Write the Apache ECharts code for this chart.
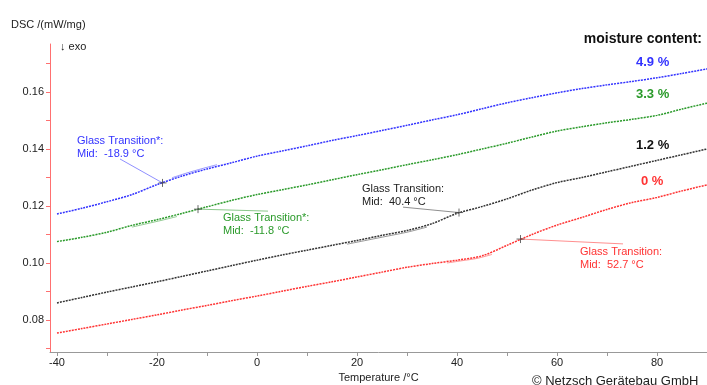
<!DOCTYPE html>
<html><head><meta charset="utf-8">
<script src="https://cdn.jsdelivr.net/npm/echarts@6/dist/echarts.min.js"></script>
<style>html,body{margin:0;padding:0;background:#fff}#c{width:707px;height:385px}</style>
</head><body><div id="c"></div>
<script>
const temps = [-40,-35,-30,-25,-20,-15,-10,-5,0,5,10,15,20,25,30,35,40,45,50,55,60,65,70,75,80,85,90];
const dsc49 = [0.1172,0.1192,0.1215,0.1240,0.1275,0.1305,0.1330,0.1352,0.1375,0.1393,0.1411,0.1430,0.1447,0.1465,0.1483,0.1502,0.1520,0.1541,0.1562,0.1580,0.1597,0.1612,0.1625,0.1637,0.1650,0.1665,0.1681];
const dsc33 = [0.1075,0.1090,0.1108,0.1132,0.1152,0.1174,0.1197,0.1220,0.1240,0.1257,0.1274,0.1292,0.1310,0.1327,0.1345,0.1362,0.1380,0.1400,0.1420,0.1442,0.1463,0.1478,0.1492,0.1504,0.1518,0.1540,0.1561];
const dsc12 = [0.0860,0.0879,0.0898,0.0916,0.0934,0.0953,0.0972,0.0991,0.1010,0.1028,0.1045,0.1062,0.1079,0.1097,0.1114,0.1138,0.1174,0.1198,0.1225,0.1256,0.1282,0.1300,0.1320,0.1340,0.1360,0.1380,0.1400];
const dsc00 = [0.0754,0.0770,0.0786,0.0802,0.0818,0.0835,0.0851,0.0868,0.0884,0.0901,0.0918,0.0934,0.0951,0.0968,0.0985,0.0998,0.1010,0.1025,0.1062,0.1100,0.1133,0.1160,0.1188,0.1212,0.1230,0.1253,0.1274];
// thin solid evaluation curves next to the measured traces
const fit49T = [-17,-14,-11,-8];   const fit49 = [0.1299,0.1316,0.1331,0.1345];
const fit33T = [-25,-22,-19,-16];  const fit33 = [0.1126,0.1138,0.1150,0.1163];
const fit12T = [18,22,26,30,34];   const fit12 = [0.1066,0.1080,0.1094,0.1108,0.1126];
const fit00T = [38,41,44,47];      const fit00 = [0.1000,0.1008,0.1016,0.1030];
const tgMid = [-18.9, -11.8, 40.4, 52.7];
const tgVal = [0.1281, 0.1189, 0.1177, 0.1084];
const leaderEndT = [-27.4, 2.2, 29.2, 73.2];
const leaderEndV = [0.1365, 0.1182, 0.1196, 0.1067];
const seriesNames = ['4.9 %','3.3 %','1.2 %','0 %'];
const colors = ['#3333ff','#2a9a2a','#333333','#ff3333'];
const xTicks = [-40,-30,-20,-10,0,10,20,30,40,50,60,70,80];
const xLabels = [-40,-20,0,20,40,60,80];
const yTicks = [0.07,0.08,0.09,0.10,0.11,0.12,0.13,0.14,0.15,0.16,0.17];
const yLabels = [0.08,0.10,0.12,0.14,0.16];

const FONT = 'Liberation Sans';
const allData = [dsc49, dsc33, dsc12, dsc00];
const fitT = [fit49T, fit33T, fit12T, fit00T];
const fitV = [fit49, fit33, fit12, fit00];
const series = [];
allData.forEach((arr, i) => {
  series.push({
    type: 'line', name: seriesNames[i], showSymbol: false, smooth: 0.3,
    data: temps.map((t, k) => [t, arr[k]]),
    lineStyle: {color: colors[i], width: 1.5, type: [2, 1]}, z: 3
  });
  series.push({
    type: 'line', showSymbol: false, silent: true, smooth: 0.3,
    data: fitT[i].map((t, k) => [t, fitV[i][k]]),
    lineStyle: {color: colors[i], width: 1, opacity: 0.5}, z: 2
  });
  series.push({
    type: 'line', showSymbol: false, silent: true,
    data: [[tgMid[i], tgVal[i]], [leaderEndT[i], leaderEndV[i]]],
    lineStyle: {color: colors[i], width: 1, opacity: 0.55}, z: 2
  });
});
series.push({
  type: 'scatter', silent: true,
  data: tgMid.map((t, i) => [t, tgVal[i]]),
  symbol: 'path://M0,5L10,5M5,0L5,10', symbolSize: 8,
  itemStyle: {color: 'none', borderColor: '#444', borderWidth: 1}, z: 5
});

const chart = echarts.init(document.getElementById('c'), null, {renderer: 'canvas'});
chart.setOption({
  animation: false,
  textStyle: {fontFamily: FONT},
  grid: {left: 50, right: 0, top: 44, bottom: 33, outerBoundsMode: 'none', containLabel: false},
  xAxis: {
    type: 'value', min: -41.4, max: 90,
    axisLine: {show: true, onZero: false, lineStyle: {color: '#999', width: 1}},
    axisTick: {show: true, customValues: xTicks, length: 4, lineStyle: {color: '#999'}},
    axisLabel: {customValues: xLabels, color: '#222', fontSize: 11, fontFamily: FONT, margin: 5},
    splitLine: {show: false},
    name: 'Temperature /°C', nameLocation: 'middle', nameGap: 20,
    nameTextStyle: {color: '#222', fontSize: 11, fontFamily: FONT}
  },
  yAxis: {
    type: 'value', min: 0.06877, max: 0.17684,
    axisLine: {show: true, onZero: false, lineStyle: {color: '#ff7070', width: 1}},
    axisTick: {show: true, customValues: yTicks, length: 4, lineStyle: {color: '#ff7070'}},
    axisLabel: {customValues: yLabels, color: '#222', fontSize: 11, fontFamily: FONT,
      formatter: v => v.toFixed(2), margin: 6},
    splitLine: {show: false}
  },
  graphic: [
    {type: 'text', left: 11, top: 19, style: {text: 'DSC /(mW/mg)', fill: '#222', font: '11px ' + FONT}},
    {type: 'text', left: 60, top: 41, style: {text: '↓ exo', fill: '#222', font: '11px ' + FONT}},
    {type: 'text', right: 5, top: 32, style: {text: 'moisture content:', fill: '#111', font: 'bold 14px ' + FONT}},
    {type: 'text', left: 636, top: 56, style: {text: '4.9 %', fill: colors[0], font: 'bold 13px ' + FONT}},
    {type: 'text', left: 636, top: 88, style: {text: '3.3 %', fill: colors[1], font: 'bold 13px ' + FONT}},
    {type: 'text', left: 636, top: 139, style: {text: '1.2 %', fill: '#111', font: 'bold 13px ' + FONT}},
    {type: 'text', left: 641, top: 175, style: {text: '0 %', fill: colors[3], font: 'bold 13px ' + FONT}},
    {type: 'text', left: 77, top: 134, style: {text: 'Glass Transition*:\nMid:  -18.9 °C', fill: colors[0], font: '11px ' + FONT, lineHeight: 13}},
    {type: 'text', left: 223, top: 211, style: {text: 'Glass Transition*:\nMid:  -11.8 °C', fill: colors[1], font: '11px ' + FONT, lineHeight: 13}},
    {type: 'text', left: 362, top: 182, style: {text: 'Glass Transition:\nMid:  40.4 °C', fill: '#222', font: '11px ' + FONT, lineHeight: 13}},
    {type: 'text', left: 580, top: 245, style: {text: 'Glass Transition:\nMid:  52.7 °C', fill: colors[3], font: '11px ' + FONT, lineHeight: 13}},
    {type: 'text', left: 532, top: 375, style: {text: '© Netzsch Gerätebau GmbH', fill: '#222', font: '13px ' + FONT}}
  ],
  series: series
});
</script></body></html>
